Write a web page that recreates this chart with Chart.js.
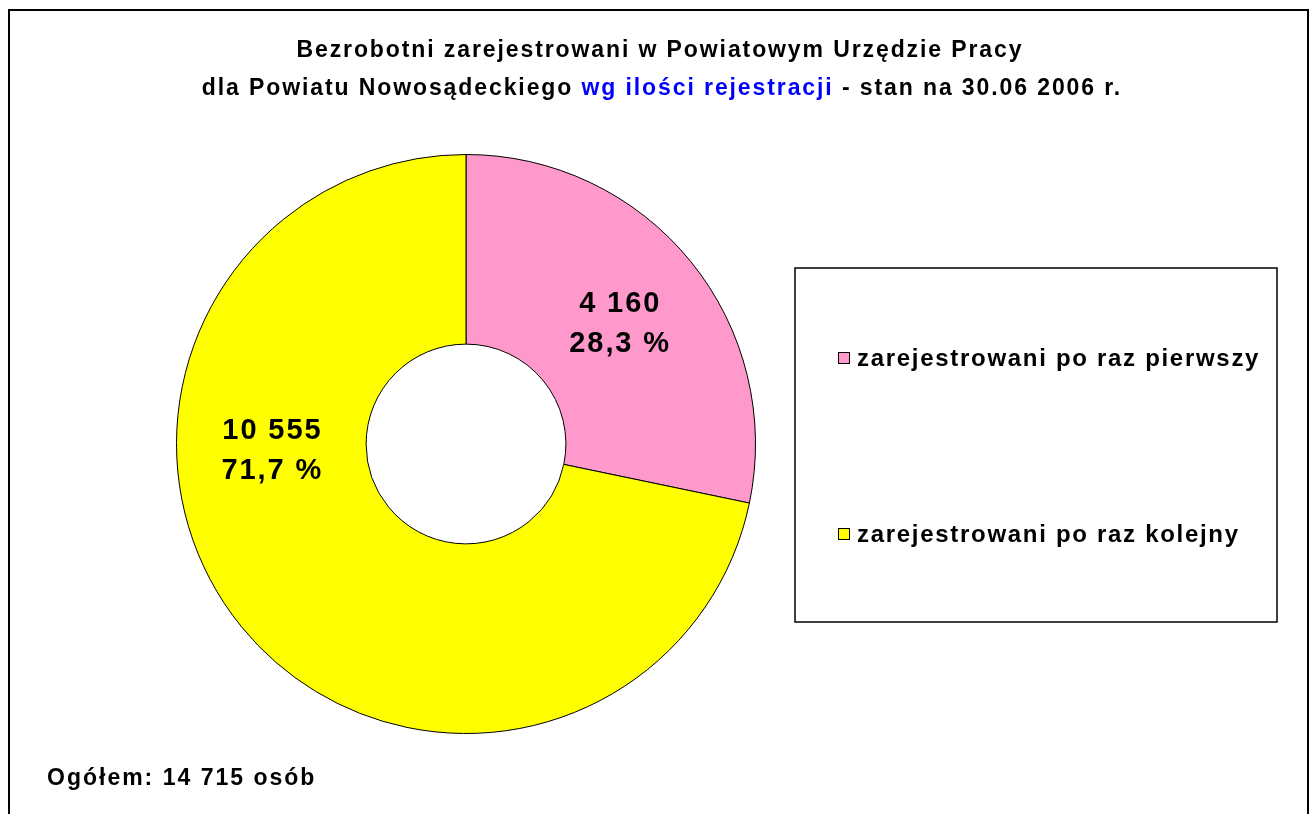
<!DOCTYPE html>
<html>
<head>
<meta charset="utf-8">
<script src="https://cdn.jsdelivr.net/npm/chart.js@4"></script>
<style>
  html, body { margin: 0; padding: 0; background: #fff; }
  #wrap { width: 1314px; height: 814px; }
</style>
</head>
<body>
<div id="wrap"><canvas id="pie"></canvas></div>
<script>
const categories = ['zarejestrowani po raz pierwszy', 'zarejestrowani po raz kolejny'];
const counts = [4160, 10555];
const sliceColors = ['#FF99CC', '#FFFF00'];
const titleLine1 = 'Bezrobotni zarejestrowani w Powiatowym Urzędzie Pracy';
const titleLine2a = 'dla Powiatu Nowosądeckiego ';
const titleLine2b = 'wg ilości rejestracji';
const titleLine2c = ' - stan na 30.06 2006 r.';
const totalPrefix = 'Ogółem: ';
const totalSuffix = ' osób';

// where along each slice (0..1) the value label sits
const labelAt = [0.51, 0.643];

const FONT = '"Liberation Sans", Arial, sans-serif';

function fmtNum(n) {
    return String(n).replace(/\B(?=(\d{3})+(?!\d))/g, ' ');
}
function fmtPct(v) {
    return v.toFixed(1).replace('.', ',') + ' %';
}

const total = counts.reduce((a, b) => a + b, 0);

// draws text with letter spacing, centred or left aligned, no trailing gap
function spaced(ctx, text, x, y, gap, align) {
    ctx.letterSpacing = gap + 'px';
    const w = ctx.measureText(text).width - gap;
    ctx.textAlign = 'left';
    const x0 = align === 'center' ? x - w / 2 : x;
    ctx.fillText(text, x0, y);
    return w + gap;
}

const decor = {
    id: 'decor',
    beforeDraw(chart) {
        const ctx = chart.ctx;
        ctx.save();
        ctx.fillStyle = '#fff';
        ctx.fillRect(0, 0, chart.width, chart.height);
        ctx.strokeStyle = '#000';
        ctx.lineWidth = 2;
        ctx.strokeRect(9, 10, 1299, 900);
        ctx.restore();
    },
    afterDatasetsDraw(chart) {
        const ctx = chart.ctx;
        const meta = chart.getDatasetMeta(0);
        ctx.save();
        ctx.fillStyle = '#000';
        ctx.font = 'bold 29px ' + FONT;
        ctx.textBaseline = 'middle';
        meta.data.forEach((arc, i) => {
            const p = arc.getProps(['x', 'y', 'startAngle', 'endAngle', 'innerRadius', 'outerRadius'], true);
            const a = p.startAngle + labelAt[i] * (p.endAngle - p.startAngle);
            const r = (p.innerRadius + p.outerRadius) / 2;
            const x = p.x + Math.cos(a) * r;
            const y = p.y + Math.sin(a) * r;
            spaced(ctx, fmtNum(counts[i]), x, y - 20, 1.9, 'center');
            spaced(ctx, fmtPct(counts[i] / total * 100), x, y + 20, 1.9, 'center');
        });
        ctx.restore();
    },
    afterDraw(chart) {
        const ctx = chart.ctx;
        ctx.save();
        // title
        ctx.font = 'bold 23px ' + FONT;
        ctx.textBaseline = 'middle';
        ctx.fillStyle = '#000';
        const gap = 1.9;
        spaced(ctx, titleLine1, 659, 51, gap, 'center');
        ctx.letterSpacing = gap + 'px';
        const full = ctx.measureText(titleLine2a + titleLine2b + titleLine2c).width - gap;
        let x = 661 - full / 2;
        x += spaced(ctx, titleLine2a, x, 89, gap, 'left');
        ctx.fillStyle = '#0000FF';
        x += spaced(ctx, titleLine2b, x, 89, gap, 'left');
        ctx.fillStyle = '#000';
        spaced(ctx, titleLine2c, x, 89, gap, 'left');

        // legend box
        ctx.strokeStyle = '#000';
        ctx.lineWidth = 1.5;
        ctx.strokeRect(795, 268, 482, 354);
        const ds = chart.data.datasets[0];
        ctx.font = 'bold 24px ' + FONT;
        chart.data.labels.forEach((lab, i) => {
            const y = 358 + i * 176;
            ctx.fillStyle = ds.backgroundColor[i];
            ctx.fillRect(838, y - 6, 12, 12);
            ctx.lineWidth = 1;
            ctx.strokeRect(838.5, y - 5.5, 11, 11);
            ctx.fillStyle = '#000';
            spaced(ctx, lab, 857, y + 1, 1.7, 'left');
        });

        // total
        ctx.font = 'bold 23px ' + FONT;
        spaced(ctx, totalPrefix + fmtNum(total) + totalSuffix, 47, 779, 2.0, 'left');
        ctx.restore();
    }
};

new Chart(document.getElementById('pie'), {
    type: 'doughnut',
    data: {
        labels: categories,
        datasets: [{
            data: counts,
            backgroundColor: sliceColors,
            borderColor: '#000',
            borderWidth: 1
        }]
    },
    options: {
        responsive: true,
        maintainAspectRatio: false,
        animation: false,
        cutout: '34.5%',
        layout: { padding: { left: 176, right: 558, top: 154, bottom: 80 } },
        plugins: {
            legend: { display: false },
            title: { display: false },
            tooltip: { enabled: false }
        }
    },
    plugins: [decor]
});
</script>
</body>
</html>
